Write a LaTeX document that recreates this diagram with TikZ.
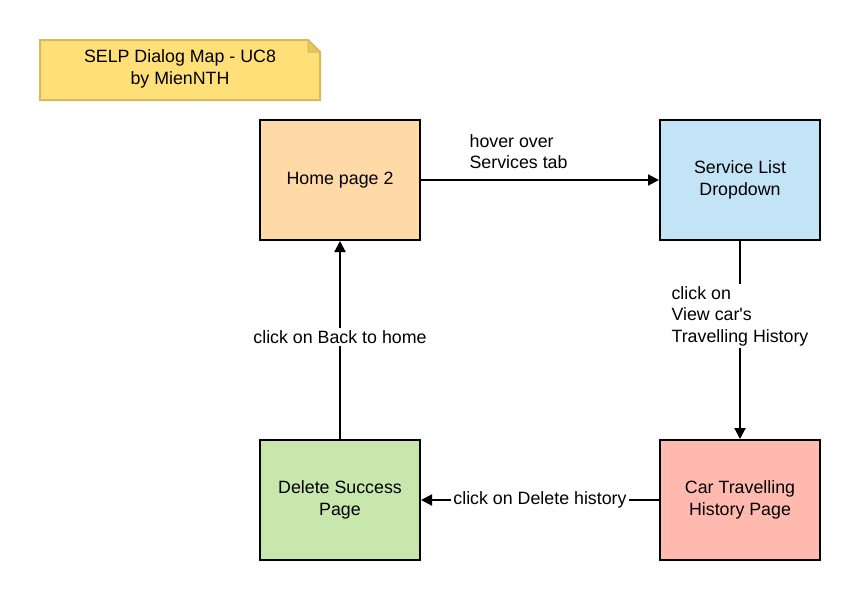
\documentclass[tikz,border=0pt]{standalone}
\usepackage{fontspec}
\setmainfont{Liberation Sans}
\usetikzlibrary{arrows.meta}

\definecolor{notefill}{HTML}{FFDF78}
\definecolor{noteline}{HTML}{D8B858}
\definecolor{notefold}{HTML}{E6C660}
\definecolor{homefill}{HTML}{FFD9A6}
\definecolor{servfill}{HTML}{C2E4F6}
\definecolor{delfill}{HTML}{C8E7AD}
\definecolor{carfill}{HTML}{FFB9AF}

\begin{document}
\begin{tikzpicture}[x=1pt,y=-1pt,
	every node/.style={font=\fontsize{17.8}{21.5}\selectfont},
	page/.style={draw,line width=2pt,minimum width=160pt,minimum height=120pt,align=center},
	flow/.style={line width=2pt,-{Triangle[length=11pt,width=11pt]}},
	lbl/.style={fill=white,inner sep=2pt,align=left}]
	\useasboundingbox (0,0) rectangle (860,600);
	% note
	\filldraw [fill=notefill,draw=noteline,line width=2pt] (40,40) -- (308,40) -- (320,52) -- (320,100) -- (40,100) -- cycle;
	\filldraw [fill=notefold,draw=noteline,line width=1pt] (308,40) -- (308,52) -- (320,52) -- cycle;
	\node [align=center] (title) at (180,69) {SELP Dialog Map - UC8\\by MienNTH};
	% pages
	\node [page,fill=homefill] (home) at (340,180) {Home page 2};
	\node [page,fill=servfill] (serv) at (740,180) {Service List\\Dropdown};
	\node [page,fill=delfill] (del) at (340,500) {Delete Success\\Page};
	\node [page,fill=carfill] (car) at (740,500) {Car Travelling\\History Page};
	% transitions
	\draw [flow] (home.east) -- (serv.west)
		node [pos=0.2,anchor=south west,align=left,inner sep=0pt,yshift=10pt] {hover over\\Services tab};
	\draw [flow] (serv.south) -- (car.north)
		node [lbl,pos=0.38] {click on\\View car\textquotesingle s\\Travelling History};
	\draw [flow] (car.west) -- (del.east)
		node [lbl,midway] {click on Delete history};
	\draw [flow] (del.north) -- (home.south)
		node [lbl,pos=0.515] {click on Back to home};
\end{tikzpicture}
\end{document}
